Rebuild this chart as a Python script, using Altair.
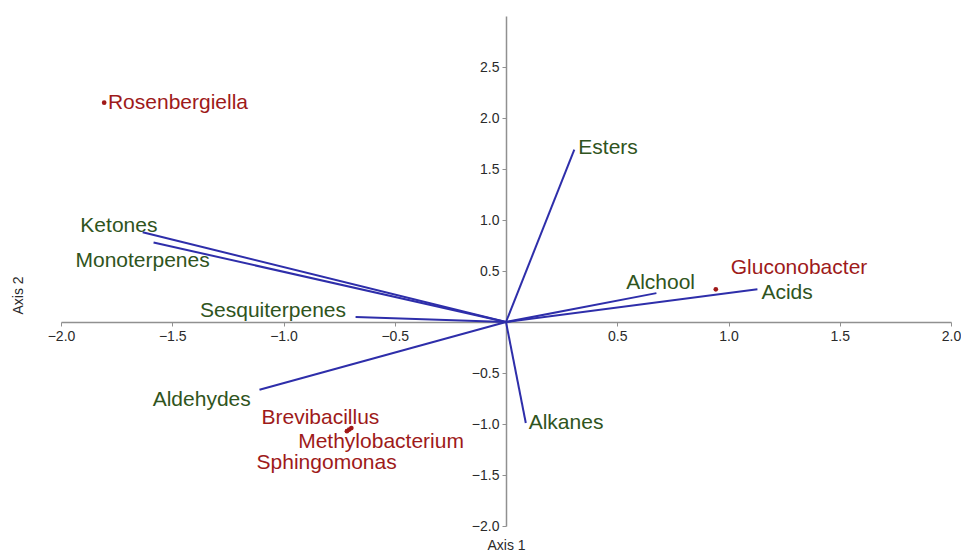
import altair as alt
import pandas as pd

# Variable vectors (loadings)
vec_names = ["Esters", "Ketones", "Monoterpenes", "Sesquiterpenes", "Aldehydes", "Alkanes", "Alchool", "Acids"]
vec_x = [0.307, -1.633, -1.584, -0.676, -1.108, 0.089, 0.676, 1.13]
vec_y = [1.69, 0.88, 0.78, 0.05, -0.665, -0.99, 0.283, 0.32]
vec_label_x = [0.325, -1.913, -1.935, -1.375, -1.588, 0.102, 0.54, 1.148]
vec_label_y = [1.71, 0.94, 0.60, 0.11, -0.76, -0.99, 0.38, 0.28]

# Taxa (scores)
taxa_names = ["Rosenbergiella", "Gluconobacter", "Brevibacillus", "Methylobacterium", "Sphingomonas"]
taxa_x = [-1.806, 0.943, -0.695, -0.705, -0.715]
taxa_y = [2.15, 0.32, -1.04, -1.055, -1.07]
taxa_label_x = [-1.789, 1.01, -1.099, -0.934, -1.121]
taxa_label_y = [2.15, 0.53, -0.94, -1.18, -1.38]

x_ticks = [-2.0, -1.5, -1.0, -0.5, 0.5, 1.0, 1.5, 2.0]
y_ticks = [-2.0, -1.5, -1.0, -0.5, 0.5, 1.0, 1.5, 2.0, 2.5]

PAD_L, PAD_T, PAD_R, PAD_B = 53, 8, 10, 26
W, H = 890, 510
x_dom = [-2.0, 2.0]
y_dom = [-2.0, 3.0]

vec_df = pd.DataFrame({
    "name": vec_names, "x": vec_x, "y": vec_y,
    "x0": [0.0] * len(vec_names), "y0": [0.0] * len(vec_names),
    "lx": vec_label_x, "ly": vec_label_y,
})
taxa_df = pd.DataFrame({
    "name": taxa_names, "x": taxa_x, "y": taxa_y,
    "lx": taxa_label_x, "ly": taxa_label_y,
})

xs = alt.Scale(domain=x_dom, nice=False, zero=False)
ys = alt.Scale(domain=y_dom, nice=False, zero=False)

axis_common = dict(
    grid=False, domainColor="#909090", domainWidth=1.5, tickColor="#909090",
    tickSize=4, tickWidth=1, labelColor="#2a2a2a", labelFontSize=14,
    labelFont="Liberation Sans", format=".1f", labelFlush=False,
    titleFont="Liberation Sans", titleFontSize=14, titleColor="#2a2a2a",
    titleFontWeight="normal", labelOverlap=False,
)

# pixel position of the origin inside the plot area
ox = W * (0 - x_dom[0]) / (x_dom[1] - x_dom[0])
oy = H * (y_dom[1] - 0) / (y_dom[1] - y_dom[0])

x_axis = alt.Axis(
    values=x_ticks, orient="bottom", offset=-(H - oy), title="Axis 1",
    titleY=(H + PAD_B - 7) - oy, titleBaseline="middle", titleX=ox, labelPadding=3,
    **axis_common,
)
y_axis = alt.Axis(
    values=y_ticks, orient="left", offset=-ox, title="Axis 2",
    titleX=(10 - PAD_L) - ox, titleY=279, titleBaseline="middle", titleAngle=-90,
    labelPadding=3,
    **axis_common,
)

X = lambda f: alt.X(f, scale=xs, axis=x_axis, title="Axis 1")
Y = lambda f: alt.Y(f, scale=ys, axis=y_axis, title="Axis 2")

rules = alt.Chart(vec_df).mark_rule(color="#2e2eaa", strokeWidth=2).encode(
    x=X("x:Q"),
    y=Y("y:Q"),
    x2="x0:Q",
    y2="y0:Q",
)

vec_text = alt.Chart(vec_df).mark_text(
    align="left", baseline="middle", fontSize=21, font="Liberation Sans", color="#2f5420"
).encode(
    x=X("lx:Q"),
    y=Y("ly:Q"),
    text="name:N",
)

pts = alt.Chart(taxa_df).mark_point(filled=True, size=22, color="#a01818", opacity=1).encode(
    x=X("x:Q"),
    y=Y("y:Q"),
)

taxa_text = alt.Chart(taxa_df).mark_text(
    align="left", baseline="middle", fontSize=21, font="Liberation Sans", color="#9e1a1a"
).encode(
    x=X("lx:Q"),
    y=Y("ly:Q"),
    text="name:N",
)

chart = alt.layer(rules, vec_text, pts, taxa_text).properties(
    width=W, height=H,
    autosize=alt.AutoSizeParams(type="none"),
    padding={"left": PAD_L, "top": PAD_T, "right": PAD_R, "bottom": PAD_B},
).configure_view(stroke=None)

chart.save("out.html", embed_options={"renderer": "svg", "actions": False})
